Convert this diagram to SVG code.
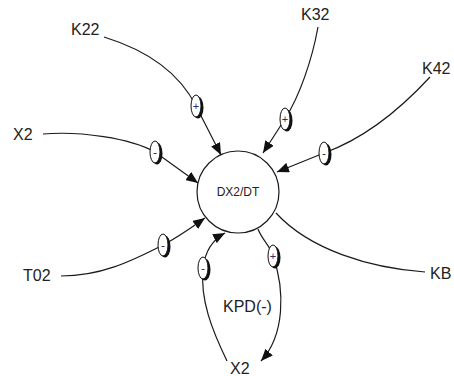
<svg xmlns="http://www.w3.org/2000/svg" width="454" height="376" viewBox="0 0 454 376">
<style>
.lbl{font-family:"Liberation Sans",Arial,sans-serif;font-size:16px;fill:#222}
.ctr{font-family:"Liberation Sans",Arial,sans-serif;font-size:12px;fill:#222;text-anchor:middle}
.ln{fill:none;stroke:#1a1a1a;stroke-width:1.2}
.sh{fill:#111}
.el{fill:#fff;stroke:#111;stroke-width:1}
.sg{font-family:"Liberation Sans",Arial,sans-serif;font-size:11px;text-anchor:middle}
.plus{fill:#332a66}
.minus{fill:#111}
</style>
<defs>
<marker id="ah" markerUnits="userSpaceOnUse" markerWidth="12" markerHeight="10" refX="12" refY="5" orient="auto">
<path d="M0,0 L12,5 L0,10 z" fill="#111"/>
</marker>
</defs>
<rect width="454" height="376" fill="#fff"/>
<g id="connectors">
<path class="ln" d="M104,37 Q172,58 196,106 L221,155" marker-end="url(#ah)"/>
<path class="ln" d="M43,134 C80,131 130,138 155,152 L198,183" marker-end="url(#ah)"/>
<path class="ln" d="M318,27 C312,60 300,95 285,119 L263,153" marker-end="url(#ah)"/>
<path class="ln" d="M430,77 C395,115 360,140 324,153 L277,172" marker-end="url(#ah)"/>
<path class="ln" d="M61,276 C100,276 130,262 163,245 C180,236 195,225 205,218" marker-end="url(#ah)"/>
<path class="ln" d="M227,361 C212,330 200,300 203,268 C205,252 212,240 225,233" marker-end="url(#ah)"/>
<path class="ln" d="M258,229 C262,240 270,245 273,256 C285,290 285,335 261,361" marker-end="url(#ah)"/>
<path class="ln" d="M276,213 C310,250 370,268 425,272"/>
</g>
<g id="signs">
<g id="s-k22"><ellipse class="sh" cx="198" cy="107.5" rx="5.5" ry="11"/><ellipse class="el" cx="196" cy="106" rx="5" ry="11"/><text class="sg plus" x="196" y="110">+</text></g>
<g id="s-x2"><ellipse class="sh" cx="157" cy="153.5" rx="5.5" ry="11"/><ellipse class="el" cx="155" cy="152" rx="5" ry="11"/><text class="sg minus" x="155" y="156">-</text></g>
<g id="s-k32"><ellipse class="sh" cx="287" cy="120.5" rx="5.5" ry="11"/><ellipse class="el" cx="285" cy="119" rx="5" ry="11"/><text class="sg plus" x="285" y="123">+</text></g>
<g id="s-k42"><ellipse class="sh" cx="326" cy="154.5" rx="5.5" ry="11"/><ellipse class="el" cx="324" cy="153" rx="5" ry="11"/><text class="sg minus" x="324" y="157">-</text></g>
<g id="s-t02"><ellipse class="sh" cx="165" cy="246.5" rx="5.5" ry="11"/><ellipse class="el" cx="163" cy="245" rx="5" ry="11"/><text class="sg minus" x="163" y="249">-</text></g>
<g id="s-loopL"><ellipse class="sh" cx="205" cy="269.5" rx="5.5" ry="11"/><ellipse class="el" cx="203" cy="268" rx="5" ry="11"/><text class="sg minus" x="203" y="272">-</text></g>
<g id="s-loopR"><ellipse class="sh" cx="275" cy="257.5" rx="5.5" ry="11"/><ellipse class="el" cx="273" cy="256" rx="5" ry="11"/><text class="sg plus" x="273" y="260">+</text></g>
</g>
<g id="node-dx2dt">
<circle cx="238" cy="192" r="41" fill="#fff" stroke="#1a1a1a" stroke-width="1.2"/>
<text class="ctr" x="238" y="196">DX2/DT</text>
</g>
<g id="node-k22"><text class="lbl" x="71" y="35">K22</text></g>
<g id="node-k32"><text class="lbl" x="301" y="20">K32</text></g>
<g id="node-k42"><text class="lbl" x="422" y="74">K42</text></g>
<g id="node-x2-left"><text class="lbl" x="13" y="140">X2</text></g>
<g id="node-t02"><text class="lbl" x="23" y="281">T02</text></g>
<g id="node-kb"><text class="lbl" x="430" y="279">KB</text></g>
<g id="node-kpd"><text class="lbl" x="223" y="312">KPD(-)</text></g>
<g id="node-x2-bottom"><text class="lbl" x="230" y="374">X2</text></g>
</svg>
